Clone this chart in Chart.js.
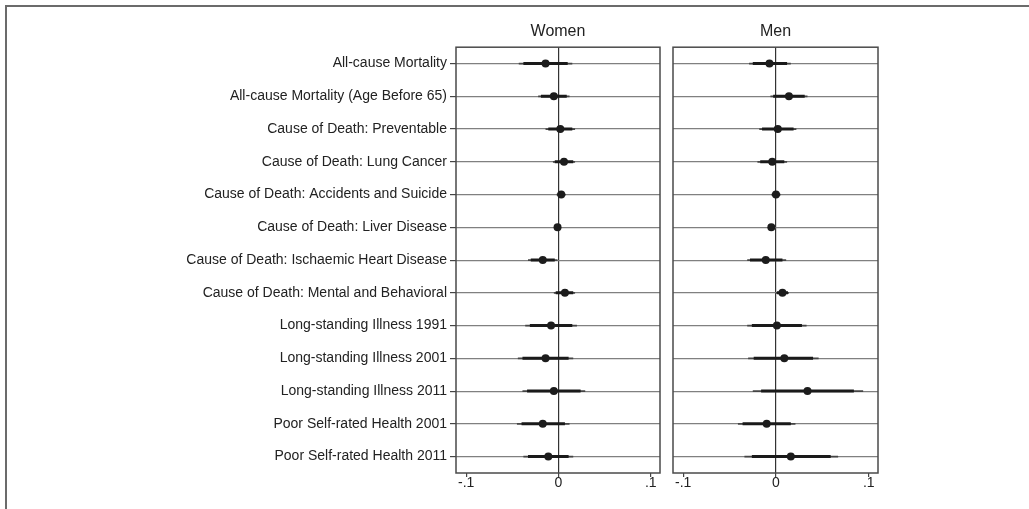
<!DOCTYPE html>
<html>
<head>
<meta charset="utf-8">
<script src="https://cdn.jsdelivr.net/npm/chart.js@4.4.1/dist/chart.umd.min.js"></script>
<style>
    html, body { margin: 0; padding: 0; background: #fff; }
    body { width: 1029px; height: 509px; position: relative; overflow: hidden; }
    #frame { position: absolute; left: 5px; top: 5px; right: -4px; bottom: -4px;
             border-top: 2px solid #6b6b6b; border-left: 2px solid #6b6b6b; }
    .panel { position: absolute; top: 0; }
    #women { left: 0; }
    #men { left: 664px; }
</style>
</head>
<body>
<div id="frame"></div>
<div class="panel" id="women"><canvas id="womenChart" width="664" height="509"></canvas></div>
<div class="panel" id="men"><canvas id="menChart" width="220" height="509"></canvas></div>
<script>
const categories = [
    "All-cause Mortality",
    "All-cause Mortality (Age Before 65)",
    "Cause of Death: Preventable",
    "Cause of Death: Lung Cancer",
    "Cause of Death: Accidents and Suicide",
    "Cause of Death: Liver Disease",
    "Cause of Death: Ischaemic Heart Disease",
    "Cause of Death: Mental and Behavioral",
    "Long-standing Illness 1991",
    "Long-standing Illness 2001",
    "Long-standing Illness 2011",
    "Poor Self-rated Health 2001",
    "Poor Self-rated Health 2011"
]

const xTickValues = [-0.1, 0, 0.1]
const xTickLabels = ["-.1", "0", ".1"]

// Women: point estimates, 95% (thin) and 90% (thick) intervals
const womenEst  = [-0.014, -0.005,  0.002,  0.006,  0.003, -0.001, -0.017,  0.007, -0.008, -0.014, -0.005, -0.017, -0.011]
const womenLo95 = [-0.043, -0.022, -0.014, -0.006, -0.002, -0.003, -0.033, -0.005, -0.036, -0.044, -0.039, -0.045, -0.038]
const womenHi95 = [ 0.015,  0.012,  0.018,  0.018,  0.008,  0.001, -0.001,  0.018,  0.020,  0.016,  0.029,  0.012,  0.016]
const womenLo90 = [-0.038, -0.019, -0.011, -0.004, -0.001, -0.002, -0.030, -0.003, -0.031, -0.039, -0.034, -0.040, -0.033]
const womenHi90 = [ 0.010,  0.009,  0.015,  0.016,  0.007,  0.000, -0.004,  0.016,  0.015,  0.011,  0.024,  0.007,  0.011]

// Men
const menEst  = [-0.007,  0.014,  0.002, -0.004,  0.000, -0.005, -0.011,  0.007,  0.001,  0.009,  0.034, -0.010,  0.016]
const menLo95 = [-0.029, -0.006, -0.018, -0.020, -0.005, -0.006, -0.031,  0.000, -0.031, -0.030, -0.025, -0.041, -0.034]
const menHi95 = [ 0.016,  0.034,  0.022,  0.012,  0.005, -0.003,  0.011,  0.014,  0.033,  0.046,  0.094,  0.021,  0.067]
const menLo90 = [-0.025, -0.003, -0.015, -0.017, -0.004, -0.006, -0.028,  0.001, -0.026, -0.024, -0.016, -0.036, -0.026]
const menHi90 = [ 0.012,  0.031,  0.019,  0.009,  0.004, -0.004,  0.007,  0.013,  0.028,  0.040,  0.084,  0.016,  0.059]

const FONT = "'Liberation Sans', Arial, Helvetica, sans-serif"

// one line dataset with gaps between rows
function intervalPoints(lo, hi) {
    var pts = []
    for (var i = 0; i < lo.length; i++) {
        pts.push({ x: lo[i], y: i })
        pts.push({ x: hi[i], y: i })
        pts.push({ x: NaN, y: NaN })
    }
    return pts
}

function estimatePoints(est) {
    return est.map(function (v, i) { return { x: v, y: i } })
}

// box round the plot area
const panelFrame = {
    id: 'panelFrame',
    beforeDatasetsDraw(chart) {
        var a = chart.chartArea
        var ctx = chart.ctx
        ctx.save()
        ctx.strokeStyle = '#4a4a4a'
        ctx.lineWidth = 1.5
        ctx.strokeRect(a.left, a.top, a.right - a.left, a.bottom - a.top)
        ctx.restore()
    }
}

function makePanel(el, title, est, lo95, hi95, lo90, hi90, showLabels, padding, axisWidth) {
    return new Chart(el, {
        type: 'scatter',
        data: {
            datasets: [{
                label: 'Estimate',
                data: estimatePoints(est),
                pointRadius: 4,
                pointBackgroundColor: '#1c1c1c',
                pointBorderColor: '#1c1c1c',
                pointBorderWidth: 0
            }, {
                label: '90% CI',
                data: intervalPoints(lo90, hi90),
                showLine: true,
                spanGaps: false,
                borderColor: '#1a1a1a',
                borderWidth: 3,
                borderCapStyle: 'butt',
                pointRadius: 0
            }, {
                label: '95% CI',
                data: intervalPoints(lo95, hi95),
                showLine: true,
                spanGaps: false,
                borderColor: '#444444',
                borderWidth: 1.8,
                borderCapStyle: 'butt',
                pointRadius: 0
            }]
        },
        options: {
            responsive: false,
            animation: false,
            devicePixelRatio: 1,
            layout: { padding: padding },
            plugins: {
                legend: { display: false },
                tooltip: { enabled: false },
                title: {
                    display: true,
                    text: title,
                    fullSize: false,
                    color: '#222',
                    font: { family: FONT, size: 16, weight: 'normal' },
                    padding: { top: 22, bottom: 6 }
                }
            },
            scales: {
                x: {
                    type: 'linear',
                    min: -0.111,
                    max: 0.110,
                    afterBuildTicks: function (scale) {
                        scale.ticks = xTickValues.map(function (v) { return { value: v } })
                    },
                    afterFit: function (scale) { scale.height = 36 },
                    border: { display: false },
                    grid: {
                        color: function (ctx) { return ctx.tick && ctx.tick.value === 0 ? '#333' : 'rgba(0,0,0,0)' },
                        lineWidth: 1.2,
                        tickColor: '#444',
                        tickLength: 4
                    },
                    ticks: {
                        color: '#222',
                        padding: -2,
                        maxRotation: 0,
                        font: { family: FONT, size: 14 },
                        callback: function (value) {
                            var k = xTickValues.indexOf(value)
                            return k >= 0 ? xTickLabels[k] : ''
                        }
                    }
                },
                y: {
                    type: 'linear',
                    reverse: true,
                    min: -0.5,
                    max: 12.5,
                    afterBuildTicks: function (scale) {
                        scale.ticks = categories.map(function (c, i) { return { value: i } })
                    },
                    afterFit: function (scale) { scale.width = axisWidth },
                    border: { display: false },
                    grid: {
                        color: '#808080',
                        lineWidth: 1.2,
                        drawTicks: showLabels,
                        tickLength: 6,
                        tickColor: '#444'
                    },
                    ticks: {
                        display: showLabels,
                        color: '#222',
                        padding: 3,
                        font: { family: FONT, size: 14 },
                        callback: function (value) { return categories[value] }
                    }
                }
            }
        },
        plugins: [panelFrame]
    })
}

makePanel(document.getElementById('womenChart'), 'Women',
    womenEst, womenLo95, womenHi95, womenLo90, womenHi90,
    true, { left: 0, right: 4, top: 0, bottom: 0 }, 456)

makePanel(document.getElementById('menChart'), 'Men',
    menEst, menLo95, menHi95, menLo90, menHi90,
    false, { left: 9, right: 6, top: 0, bottom: 0 }, 0)
</script>
</body>
</html>
